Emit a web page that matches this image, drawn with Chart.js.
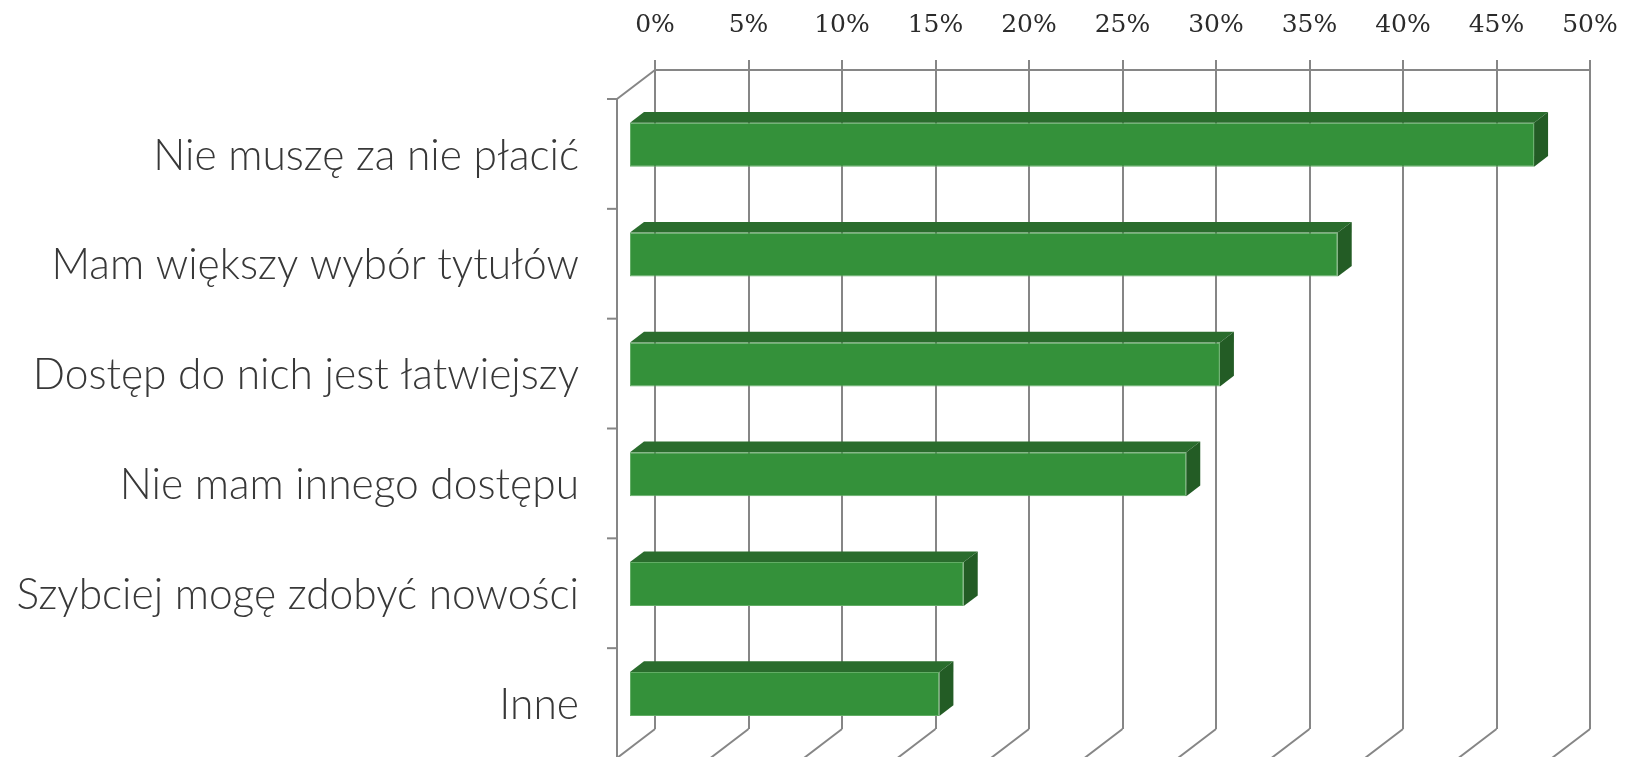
<!DOCTYPE html>
<html>
<head>
<meta charset="utf-8">
<script src="https://cdn.jsdelivr.net/npm/chart.js@4.4.1/dist/chart.umd.min.js"></script>
<style>
  html, body { margin: 0; padding: 0; background: #fff; }
  #wrap { width: 1631px; height: 757px; }
</style>
</head>
<body>
<div id="wrap"><canvas id="myChart"></canvas></div>
<script>
const categories = [
  'Nie muszę za nie płacić',
  'Mam większy wybór tytułów',
  'Dostęp do nich jest łatwiejszy',
  'Nie mam innego dostępu',
  'Szybciej mogę zdobyć nowości',
  'Inne'
];
const percents = [48.4, 37.9, 31.6, 29.8, 17.9, 16.6];
const axisMax = 50;
const axisStep = 5;

// 3d look (excel style): wall depth vector, bars sit in the middle of it
const depth = { x: 38, y: -29 };
const barFront = 0.684;
const barDepth = 0.368;
const gridColor = '#868686';
const frontColor = '#34913a';
const topColor = '#2a6c2d';
const sideColor = '#235c25';

function line(ctx, x1, y1, x2, y2) {
  ctx.beginPath();
  ctx.moveTo(x1, y1);
  ctx.lineTo(x2, y2);
  ctx.stroke();
}
function poly(ctx, pts, color) {
  ctx.beginPath();
  ctx.moveTo(pts[0][0], pts[0][1]);
  pts.slice(1).forEach(p => ctx.lineTo(p[0], p[1]));
  ctx.closePath();
  ctx.fillStyle = color;
  ctx.fill();
}

const fake3d = {
  id: 'fake3d',
  beforeDatasetsDraw(chart) {
    const { ctx, chartArea: a, scales: { x, y } } = chart;
    ctx.save();
    ctx.strokeStyle = gridColor;
    ctx.lineWidth = 2;
    // floor lines under each gridline
    x.ticks.forEach(t => {
      const px = x.getPixelForValue(t.value);
      line(ctx, px, a.bottom, px - depth.x, a.bottom - depth.y);
    });
    // left wall edge
    const fx = a.left - depth.x;
    line(ctx, a.left, a.top, fx, a.top - depth.y);
    line(ctx, fx, a.top - depth.y, fx, a.bottom - depth.y + 2);
    // category separators on the front edge
    for (let i = 0; i <= categories.length; i++) {
      let py;
      if (i === 0) py = a.top;
      else if (i === categories.length) py = a.bottom;
      else py = (y.getPixelForTick(i - 1) + y.getPixelForTick(i)) / 2;
      line(ctx, fx - 10, py - depth.y, fx, py - depth.y);
    }
    ctx.restore();
    // bars are drawn a bit forward of the back wall
    ctx.save();
    ctx.translate(-depth.x * barFront, -depth.y * barFront);
  },
  afterDatasetsDraw(chart) {
    const ctx = chart.ctx;
    const dx = depth.x * barDepth, dy = depth.y * barDepth;
    chart.getDatasetMeta(0).data.forEach(bar => {
      const { x, y, base, height } = bar.getProps(['x', 'y', 'base', 'height'], true);
      const t = y - height / 2, b = y + height / 2;
      poly(ctx, [[base, t], [base + dx, t + dy], [x + dx, t + dy], [x, t]], topColor);
      poly(ctx, [[x, t], [x + dx, t + dy], [x + dx, b + dy], [x, b]], sideColor);
    });
    ctx.restore();
  }
};

const ctx = document.getElementById('myChart').getContext('2d');
const myChart = new Chart(ctx, {
  type: 'bar',
  data: {
    labels: categories,
    datasets: [{
      data: percents,
      backgroundColor: frontColor,
      borderColor: '#62ad65',
      borderWidth: 1,
      borderSkipped: false,
      categoryPercentage: 1,
      barPercentage: 0.4,
      clip: false
    }]
  },
  plugins: [fake3d],
  options: {
    indexAxis: 'y',
    responsive: true,
    maintainAspectRatio: false,
    animation: false,
    layout: { padding: { left: 0, top: 0, right: 41, bottom: 28 } },
    plugins: {
      legend: { display: false },
      tooltip: { enabled: false }
    },
    scales: {
      x: {
        position: 'top',
        min: 0,
        max: axisMax,
        ticks: {
          stepSize: axisStep,
          padding: 20,
          color: '#2b2b2b',
          font: { family: 'DejaVu Serif', size: 25 },
          callback: v => v + '%'
        },
        grid: { color: gridColor, lineWidth: 2, tickLength: 10, drawTicks: true },
        border: { display: true, color: gridColor, width: 2 },
        afterFit: s => { s.height = 70; s.paddingLeft = 0; s.paddingRight = 0; }
      },
      y: {
        grid: { display: false, drawTicks: false },
        border: { display: false },
        ticks: {
          padding: 76,
          labelOffset: 31,
          color: '#383838',
          font: { family: 'Lato', size: 42.5, weight: 300 }
        },
        afterFit: s => { s.width = 655; s.paddingTop = 0; s.paddingBottom = 0; }
      }
    }
  }
});
</script>
</body>
</html>
